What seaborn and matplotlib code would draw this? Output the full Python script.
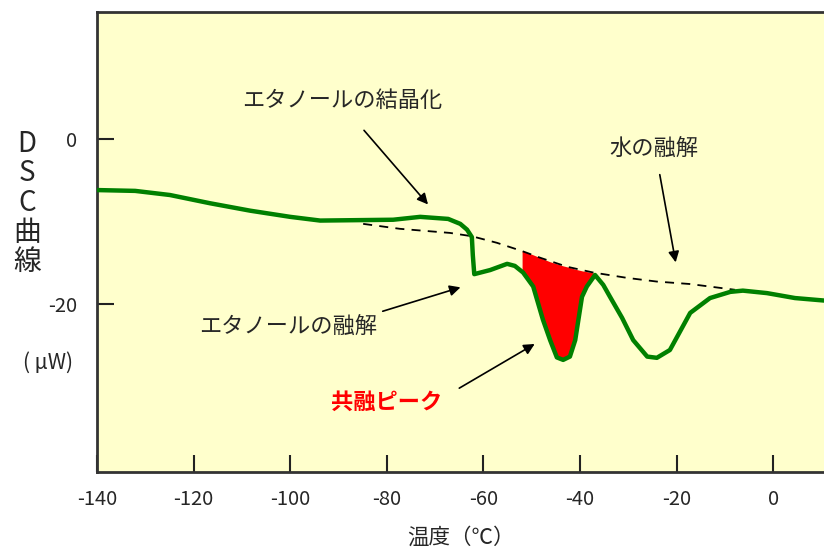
import numpy as np
import pandas as pd
import seaborn as sns
import matplotlib.pyplot as plt

# DSC曲線: 温度 ℃ / μW
temp = [-140, -132.1, -124.9, -116.6, -108.3, -100.0, -93.8, -78.7, -73.1, -67.3,
        -64.8, -63.4, -62.4, -62.2, -61.9, -58.6, -55.1, -53.5, -51.8, -49.7,
        -47.7, -46.2, -44.8, -43.5, -42.1, -41.0, -39.6, -38.6, -36.9, -35.2,
        -33.8, -31.3, -29.0, -26.1, -24.1, -21.4, -17.2, -13.1, -8.9, -6.3,
        -1.3, 4.5, 10.5]
dsc = [-6.2, -6.3, -6.8, -7.8, -8.7, -9.45, -9.9, -9.8, -9.45, -9.7,
       -10.3, -11.0, -11.9, -14.1, -16.4, -15.9, -15.15, -15.4, -16.2, -17.9,
       -21.9, -24.4, -26.5, -26.8, -26.4, -24.4, -19.15, -17.9, -16.5, -17.7,
       -19.15, -21.7, -24.4, -26.4, -26.55, -25.6, -21.1, -19.3, -18.55, -18.4,
       -18.7, -19.3, -19.6]

# ベースライン（破線）
base_t = [-84.9, -77.3, -66.9, -62.4, -57.2, -52.0, -48.3, -42.7, -37.3, -30.3, -24.1, -17.2, -7.9]
base_v = [-10.3, -10.9, -11.4, -11.8, -12.6, -13.6, -14.4, -15.5, -16.2, -16.85, -17.3, -17.6, -18.3]

# 共融ピーク（赤塗り）
peak_t = [-52.0, -51.8, -49.7, -47.7, -46.2, -44.8, -43.5, -42.1, -41.0, -39.6, -38.6, -36.9]
peak_low = [-16.2, -16.2, -17.9, -21.9, -24.4, -26.5, -26.8, -26.4, -24.4, -19.15, -17.9, -16.5]
peak_top = [-13.6, -13.6, -14.06, -14.55, -14.9, -15.15, -15.4, -15.6, -15.8, -16.0, -16.1, -16.3]

xticks = [-140, -120, -100, -80, -60, -40, -20, 0]
yticks = [0, -20]

df = pd.DataFrame({'温度': temp, 'DSC': dsc})
base = pd.DataFrame({'温度': base_t, 'DSC': base_v})

sns.set_style('ticks')
plt.rcParams['font.family'] = ['Noto Sans CJK JP', 'DejaVu Sans']
plt.rcParams['axes.unicode_minus'] = False

fig = plt.figure(figsize=(8.24, 5.53), dpi=100)
ax = fig.add_axes([97/824, 1 - 472/553, 727/824, 460/553])
ax.set_facecolor('#FFFFCC')

ax.fill_between(peak_t, peak_low, peak_top, color='#FF0000', lw=0, zorder=2)
sns.lineplot(data=base, x='温度', y='DSC', ax=ax, color='black', lw=1.3,
             dashes=False, linestyle=(0, (5, 4)), zorder=3)
sns.lineplot(data=df, x='温度', y='DSC', ax=ax, color='#008000', lw=3.2,
             sort=False, estimator=None, zorder=4)

ax.set_xlim(-140, 10.5)
ax.set_ylim(-40.4, 15.4)
ax.set_xticks(xticks)
ax.set_yticks(yticks)
ax.tick_params(direction='in', length=12, width=1.5, labelsize=14.5, color='#222222')
ax.tick_params(axis='x', pad=12)
ax.tick_params(axis='y', pad=14)
for s in ['left', 'bottom', 'top']:
    ax.spines[s].set_linewidth(2)
    ax.spines[s].set_color('#333333')
ax.spines['right'].set_visible(False)
ax.set_xlabel('温度（℃）', fontsize=15.5, labelpad=12)
ax.set_ylabel('')

# 注釈
arrow = dict(arrowstyle='-|>', color='black', lw=1.2, mutation_scale=16)
ax.text(-89.3, 4.7, 'エタノールの結晶化', fontsize=16, ha='center', va='center')
ax.annotate('', xy=(-71.1, -8.2), xytext=(-85.1, 1.3), arrowprops=arrow)
ax.text(-24.7, -1.1, '水の融解', fontsize=16, ha='center', va='center')
ax.annotate('', xy=(-20.1, -15.3), xytext=(-23.6, -4.0), arrowprops=arrow)
ax.text(-100.5, -22.8, 'エタノールの融解', fontsize=16, ha='center', va='center')
ax.annotate('', xy=(-64.2, -17.9), xytext=(-81.4, -21.0), arrowprops=arrow)
ax.text(-80.0, -32.0, '共融ピーク', fontsize=16, ha='center', va='center',
        color='#FF0000', fontweight='bold')
ax.annotate('', xy=(-48.9, -24.7), xytext=(-65.5, -30.4), arrowprops=arrow)

fig.text(27/824, 1 - 203/553, 'D\nS\nC\n曲\n線', fontsize=20, ha='center', va='center',
         linespacing=0.98)
fig.text(48/824, 1 - 363/553, '( μW)', fontsize=15, ha='center', va='center')

fig.savefig('out.png', dpi=100)
